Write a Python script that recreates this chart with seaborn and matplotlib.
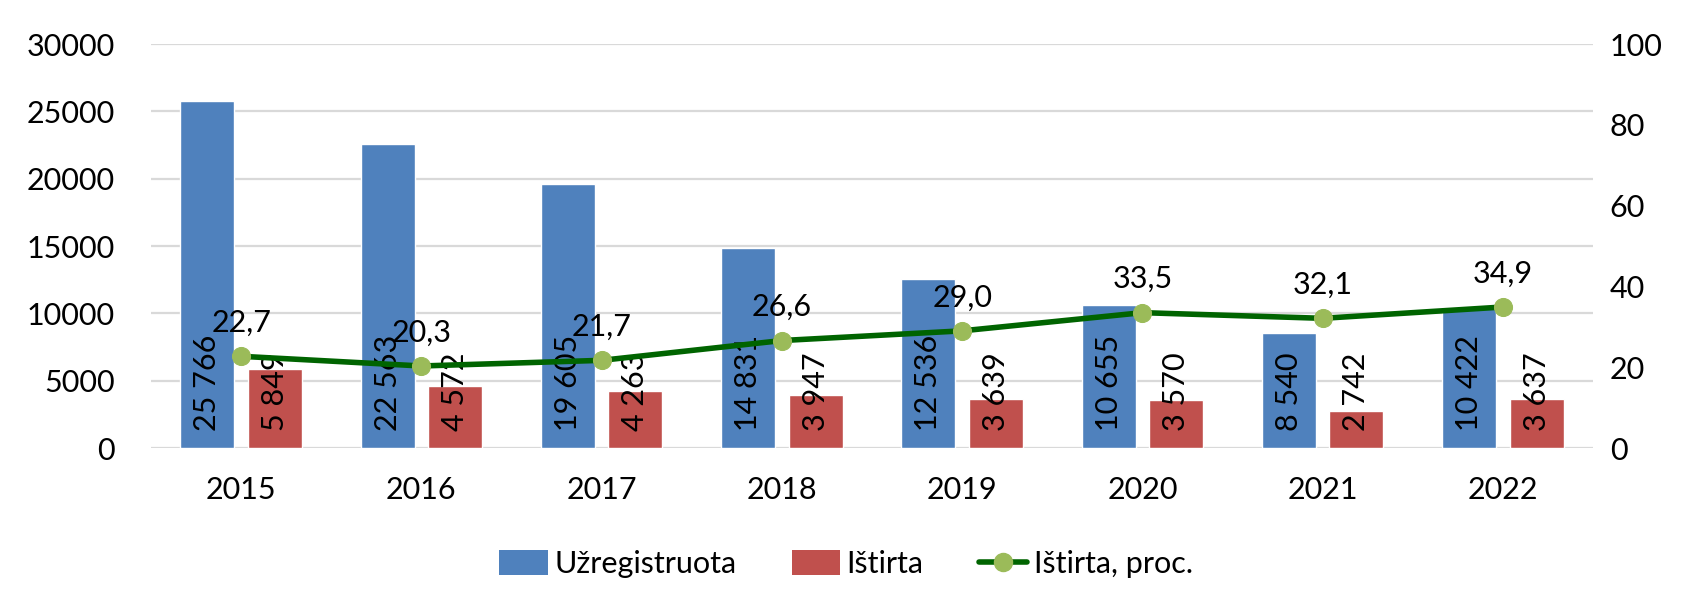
import numpy as np
import pandas as pd
import matplotlib
matplotlib.use('Agg')
import matplotlib.pyplot as plt
import seaborn as sns
from matplotlib.lines import Line2D
from matplotlib.patches import Patch

years = ['2015', '2016', '2017', '2018', '2019', '2020', '2021', '2022']
registered = [25766, 22563, 19605, 14831, 12536, 10655, 8540, 10422]
removed = [5849, 4572, 4263, 3947, 3639, 3570, 2742, 3637]
removed_pct = [22.7, 20.3, 21.7, 26.6, 29.0, 33.5, 32.1, 34.9]

series_names = ['Užregistruota', 'Ištirta']
pct_name = 'Ištirta, proc.'

BLUE = '#4F81BD'
RED = '#C0504D'
GREEN = '#006400'
LIGHT_GREEN = '#9BBB59'
GRID = '#D9D9D9'

sns.set_theme(style='white')
plt.rcParams['font.family'] = ['Lato', 'DejaVu Sans']
plt.rcParams['text.color'] = 'black'
plt.rcParams['xtick.color'] = 'black'
plt.rcParams['ytick.color'] = 'black'
FS = 22

df = pd.DataFrame({
    'year': years * 2,
    'value': registered + removed,
    'series': [series_names[0]] * len(years) + [series_names[1]] * len(years),
})

fig = plt.figure(figsize=(16.92, 6.09), dpi=100)
ax = fig.add_axes([151 / 1692, 1 - 448 / 609, (1593 - 151) / 1692, (448 - 44) / 609])

sns.barplot(data=df, x='year', y='value', hue='series', order=years,
            hue_order=series_names, palette=[BLUE, RED], width=0.747, gap=0.197,
            saturation=1, legend=False, ax=ax)

ax.set_ylim(0, 30000)
ax.set_yticks(range(0, 30001, 5000))
ax.set_xlim(-0.5, len(years) - 0.5)
ax.grid(axis='y', color=GRID, linewidth=1.6)
ax.set_axisbelow(True)
for s in ax.spines.values():
    s.set_visible(False)
ax.set_xlabel('')
ax.set_ylabel('')
ax.tick_params(axis='both', length=0, labelsize=FS, labelcolor='black')
ax.tick_params(axis='x', pad=20)
ax.tick_params(axis='y', pad=26)

# value labels inside bars, rotated
for cont in ax.containers:
    for bar in cont:
        h = bar.get_height()
        txt = f'{int(round(h)):,}'.replace(',', ' ')
        ax.annotate(txt, (bar.get_x() + bar.get_width() / 2, 0), xytext=(0, 12),
                    textcoords='offset points', rotation=90, ha='center', va='bottom',
                    fontsize=FS, color='black')

ax2 = ax.twinx()
sns.lineplot(x=np.arange(len(years)), y=removed_pct, ax=ax2, color=GREEN, linewidth=4,
             marker='o', markersize=13, markerfacecolor=LIGHT_GREEN,
             markeredgecolor=LIGHT_GREEN, zorder=5)
ax2.set_ylim(0, 100)
ax2.set_yticks(range(0, 101, 20))
ax2.set_xlim(-0.5, len(years) - 0.5)
for s in ax2.spines.values():
    s.set_visible(False)
ax2.tick_params(axis='y', length=0, labelsize=FS, pad=12, labelcolor='black')
ax2.set_ylabel('')
ax2.grid(False)

for i, v in enumerate(removed_pct):
    ax2.annotate(f'{v:.1f}'.replace('.', ','), (i, v), xytext=(0, 14),
                 textcoords='offset points', ha='center', va='bottom', fontsize=FS,
                 color='black')

handles = [
    Patch(facecolor=BLUE, edgecolor='none'),
    Patch(facecolor=RED, edgecolor='none'),
    Line2D([], [], color=GREEN, linewidth=4, marker='o', markersize=13,
           markerfacecolor=LIGHT_GREEN, markeredgecolor=LIGHT_GREEN),
]
fig.legend(handles, series_names + [pct_name], loc='center', bbox_to_anchor=(0.5, 1 - 564 / 609),
           ncol=3, frameon=False, fontsize=FS, handlelength=1.6, handleheight=0.9,
           handletextpad=0.2, columnspacing=1.8)

fig.savefig('out.png', dpi=100)
